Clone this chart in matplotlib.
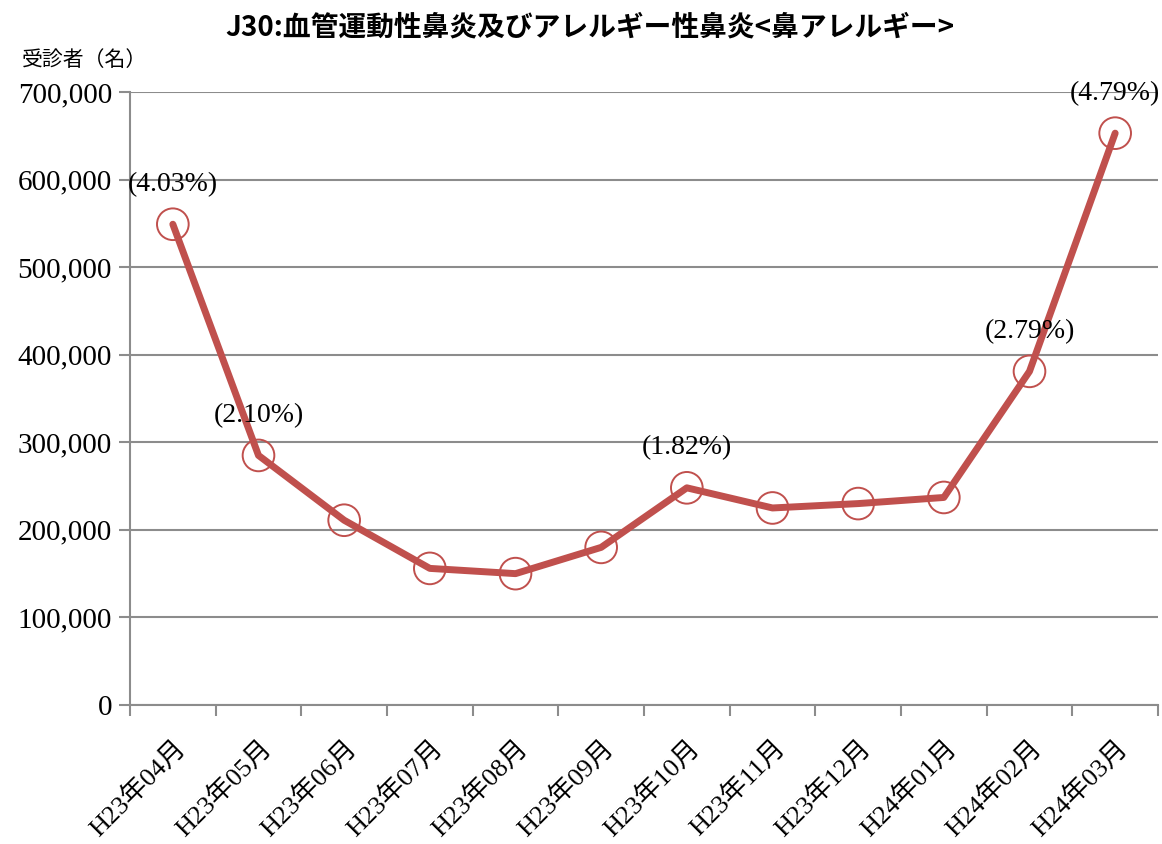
import matplotlib
matplotlib.use("Agg")
import matplotlib.pyplot as plt
from matplotlib.ticker import FuncFormatter, FixedLocator

months = ["H23年04月", "H23年05月", "H23年06月", "H23年07月", "H23年08月", "H23年09月",
          "H23年10月", "H23年11月", "H23年12月", "H24年01月", "H24年02月", "H24年03月"]
patients = [549000, 285000, 211000, 156000, 150000, 180000,
            248000, 225000, 230000, 237000, 381000, 653000]
share_labels = {0: "(4.03%)", 1: "(2.10%)", 6: "(1.82%)", 10: "(2.79%)", 11: "(4.79%)"}

serif = ["Liberation Serif", "Noto Sans CJK JP"]
sans = ["Noto Sans CJK JP", "DejaVu Sans"]
red = "#C0504D"
grid_grey = "#8C8C8C"

fig = plt.figure(figsize=(11.62, 8.44), dpi=100)
ax = fig.add_axes([130 / 1162, 1 - 705 / 844, (1158 - 130) / 1162, (705 - 92) / 844])

x = [i + 0.5 for i in range(len(months))]
ax.plot(x, patients, color=red, lw=5, solid_capstyle="round", zorder=3)
ax.scatter(x, patients, s=520, facecolors="none", edgecolors=red, linewidths=1.4, zorder=4)

for i, txt in share_labels.items():
    ax.annotate(txt, (x[i], patients[i]), xytext=(0, 40), textcoords="offset pixels",
                ha="center", va="center", fontsize=20, family=serif, zorder=5)

ax.set_xlim(0, len(months))
ax.set_ylim(0, 700000)
ax.yaxis.set_major_locator(FixedLocator(range(0, 700001, 100000)))
ax.yaxis.set_major_formatter(FuncFormatter(lambda v, p: f"{int(v):,}"))
ax.grid(axis="y", color=grid_grey, lw=1.5, zorder=1)
ax.set_axisbelow(True)

ax.xaxis.set_major_locator(FixedLocator(range(0, len(months) + 1)))
ax.xaxis.set_minor_locator(FixedLocator(x))
ax.set_xticklabels([])
ax.set_xticklabels(months, minor=True)
ax.tick_params(axis="x", which="major", length=8, width=1.5, color=grid_grey, direction="out")
ax.tick_params(axis="x", which="minor", length=0, pad=22)
ax.tick_params(axis="y", length=8, width=1.5, color=grid_grey, direction="out", pad=5)
for lab in ax.get_xticklabels(minor=True):
    lab.set_rotation(45)
    lab.set_ha("right")
    lab.set_va("top")
    lab.set_rotation_mode("anchor")
    lab.set_fontsize(19)
    lab.set_family(serif)
for lab in ax.get_yticklabels():
    lab.set_fontsize(21)
    lab.set_family(serif)

for s in ["top", "right"]:
    ax.spines[s].set_visible(False)
for s in ["left", "bottom"]:
    ax.spines[s].set_color(grid_grey)
    ax.spines[s].set_linewidth(1.5)

fig.text(590 / 1162, 1 - 27 / 844, "J30:血管運動性鼻炎及びアレルギー性鼻炎<鼻アレルギー>",
         ha="center", va="center", fontsize=20, fontweight="bold", family=sans)
fig.text(22 / 1162, 1 - 60 / 844, "受診者（名）", ha="left", va="center",
         fontsize=15, family=sans)

fig.savefig("out.png", dpi=100)
